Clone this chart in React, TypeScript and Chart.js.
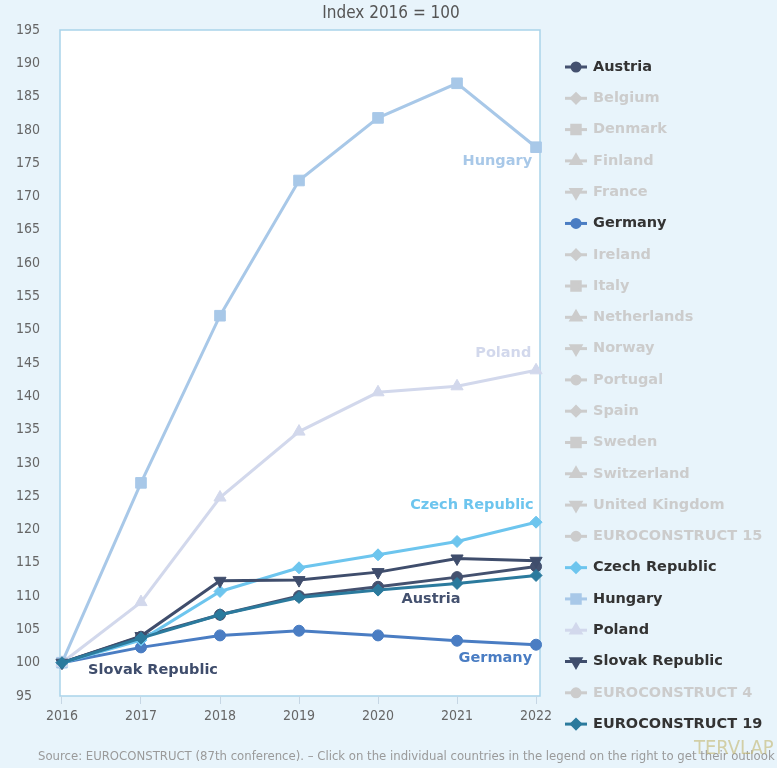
import React, { useEffect, useRef } from "react";
import { Chart, registerables } from "chart.js";
import { drawPoint } from "chart.js/helpers";

Chart.register(...registerables);

// ---------- data ----------
const years = [2016, 2017, 2018, 2019, 2020, 2021, 2022];
const austria = [100, 103.9, 107.2, 110.0, 111.4, 112.85, 114.45];
const germany = [100, 102.3, 104.1, 104.8, 104.1, 103.3, 102.7];
const czechRepublic = [100, 103.4, 110.7, 114.25, 116.2, 118.2, 121.1];
const hungary = [100, 127.0, 152.1, 172.4, 181.8, 187.0, 177.4];
const poland = [100, 109.1, 124.8, 134.7, 140.6, 141.5, 143.9];
const slovakRepublic = [100, 104.0, 112.3, 112.4, 113.6, 115.65, 115.3];
const euroconstruct19 = [100, 103.7, 107.2, 109.8, 110.9, 111.9, 113.1];
const noData: number[] = [];

const yMin = 95;
const yMax = 195;
const yStep = 5;

const titleText = "Index 2016 = 100";
const sourceText =
  "Source: EUROCONSTRUCT (87th conference). – Click on the individual countries in the legend on the right to get their outlook";

type Series = {
  name: string;
  values: number[];
  color: string;
  style: string;
  rotation: number;
  hidden: boolean;
};

const series: Series[] = [
  { name: "Austria", values: austria, color: "#44516f", style: "circle", rotation: 0, hidden: false },
  { name: "Belgium", values: noData, color: "#cccccc", style: "rectRot", rotation: 0, hidden: true },
  { name: "Denmark", values: noData, color: "#cccccc", style: "rect", rotation: 0, hidden: true },
  { name: "Finland", values: noData, color: "#cccccc", style: "triangle", rotation: 0, hidden: true },
  { name: "France", values: noData, color: "#cccccc", style: "triangle", rotation: 180, hidden: true },
  { name: "Germany", values: germany, color: "#4a7dc3", style: "circle", rotation: 0, hidden: false },
  { name: "Ireland", values: noData, color: "#cccccc", style: "rectRot", rotation: 0, hidden: true },
  { name: "Italy", values: noData, color: "#cccccc", style: "rect", rotation: 0, hidden: true },
  { name: "Netherlands", values: noData, color: "#cccccc", style: "triangle", rotation: 0, hidden: true },
  { name: "Norway", values: noData, color: "#cccccc", style: "triangle", rotation: 180, hidden: true },
  { name: "Portugal", values: noData, color: "#cccccc", style: "circle", rotation: 0, hidden: true },
  { name: "Spain", values: noData, color: "#cccccc", style: "rectRot", rotation: 0, hidden: true },
  { name: "Sweden", values: noData, color: "#cccccc", style: "rect", rotation: 0, hidden: true },
  { name: "Switzerland", values: noData, color: "#cccccc", style: "triangle", rotation: 0, hidden: true },
  { name: "United Kingdom", values: noData, color: "#cccccc", style: "triangle", rotation: 180, hidden: true },
  { name: "EUROCONSTRUCT 15", values: noData, color: "#cccccc", style: "circle", rotation: 0, hidden: true },
  { name: "Czech Republic", values: czechRepublic, color: "#6dc5ee", style: "rectRot", rotation: 0, hidden: false },
  { name: "Hungary", values: hungary, color: "#a8c8e8", style: "rect", rotation: 0, hidden: false },
  { name: "Poland", values: poland, color: "#d2d8ec", style: "triangle", rotation: 0, hidden: false },
  { name: "Slovak Republic", values: slovakRepublic, color: "#3f4d6c", style: "triangle", rotation: 180, hidden: false },
  { name: "EUROCONSTRUCT 4", values: noData, color: "#cccccc", style: "circle", rotation: 0, hidden: true },
  { name: "EUROCONSTRUCT 19", values: euroconstruct19, color: "#2b7a9d", style: "rectRot", rotation: 0, hidden: false },
];

// series name labels placed on the chart (data coordinates)
const seriesLabels = [
  { text: "Hungary", x: 2021.95, y: 175.3, align: "right", color: "#a8c8e8" },
  { text: "Poland", x: 2021.94, y: 146.4, align: "right", color: "#d2d8ec" },
  { text: "Czech Republic", x: 2021.97, y: 123.7, align: "right", color: "#6dc5ee" },
  { text: "Austria", x: 2020.67, y: 109.6, align: "center", color: "#44516f" },
  { text: "Germany", x: 2021.95, y: 100.6, align: "right", color: "#4a7dc3" },
  { text: "Slovak Republic", x: 2016.33, y: 98.8, align: "left", color: "#3f4d6c" },
];

// ---------- styles ----------
const BG = "#e8f4fb";
const PLOT_BORDER = "#a9d3ea";
const COND = "'DejaVu Sans Condensed', 'DejaVu Sans', sans-serif";
const BOLD = "bold 14.5px 'DejaVu Sans', sans-serif";

function radiusFor(style: string) {
  if (style === "rect") return 7.5;
  if (style === "triangle") return 7;
  if (style === "rectRot") return 6;
  return 5.5;
}

const decorPlugin = {
  id: "decor",
  beforeDraw(chart: any) {
    const { ctx, chartArea: a, width, height } = chart;
    ctx.save();
    ctx.fillStyle = BG;
    ctx.fillRect(0, 0, width, height);
    ctx.fillStyle = "#ffffff";
    ctx.fillRect(a.left, a.top, a.right - a.left, a.bottom - a.top);
    ctx.strokeStyle = PLOT_BORDER;
    ctx.lineWidth = 1.5;
    ctx.strokeRect(a.left, a.top, a.right - a.left, a.bottom - a.top);
    // title
    ctx.font = `17px ${COND}`;
    ctx.fillStyle = "#555555";
    ctx.textAlign = "center";
    ctx.textBaseline = "middle";
    ctx.fillText(titleText, 391, 14);
    ctx.restore();
  },
  afterDatasetsDraw(chart: any) {
    const { ctx } = chart;
    const xs = chart.scales.x;
    const ys = chart.scales.y;
    ctx.save();
    ctx.font = BOLD;
    ctx.textBaseline = "middle";
    for (const l of seriesLabels) {
      ctx.fillStyle = l.color;
      ctx.textAlign = l.align as CanvasTextAlign;
      ctx.fillText(l.text, xs.getPixelForValue(l.x), ys.getPixelForValue(l.y));
    }
    ctx.restore();
  },
  afterDraw(chart: any) {
    const { ctx, chartArea: a } = chart;
    ctx.save();
    // legend
    const lx = a.right + 25;
    const ly0 = a.top + 37;
    const pitch = 31.29;
    series.forEach((s, i) => {
      const y = ly0 + i * pitch;
      const col = s.hidden ? "#cccccc" : s.color;
      ctx.strokeStyle = col;
      ctx.lineWidth = 3;
      ctx.beginPath();
      ctx.moveTo(lx, y);
      ctx.lineTo(lx + 22, y);
      ctx.stroke();
      ctx.fillStyle = col;
      drawPoint(
        ctx,
        {
          pointStyle: s.style as any,
          radius: radiusFor(s.style) - 1.5,
          rotation: s.rotation,
          borderWidth: 1,
        } as any,
        lx + 11,
        y
      );
      ctx.font = BOLD;
      ctx.textAlign = "left";
      ctx.textBaseline = "middle";
      ctx.fillStyle = s.hidden ? "#cccccc" : "#333333";
      ctx.fillText(s.name, lx + 28, y);
    });
    // source
    ctx.font = `13px ${COND}`;
    ctx.fillStyle = "#9a9a9a";
    ctx.textAlign = "left";
    ctx.textBaseline = "middle";
    ctx.fillText(sourceText, 38, 757);
    // logo mark
    ctx.font = `20px ${COND}`;
    ctx.fillStyle = "rgba(195,182,110,0.6)";
    ctx.fillText("TERVLAP", 694, 749);
    ctx.restore();
  },
};

export default function App() {
  const ref = useRef<HTMLCanvasElement | null>(null);

  useEffect(() => {
    if (!ref.current) return;
    const datasets = series.map((s, i) => ({
      label: s.name,
      data: s.values.map((v, j) => ({ x: years[j], y: v })),
      borderColor: s.color,
      backgroundColor: s.color,
      pointBackgroundColor: s.color,
      pointBorderColor: s.color,
      pointBorderWidth: 1,
      pointStyle: s.style,
      pointRotation: s.rotation,
      pointRadius: radiusFor(s.style),
      pointHoverRadius: radiusFor(s.style) + 1,
      borderWidth: 3,
      tension: 0,
      hidden: s.hidden,
      clip: false as any,
      order: -i,
    }));

    const chart = new Chart(ref.current, {
      type: "line",
      data: { datasets },
      plugins: [decorPlugin],
      options: {
        responsive: false,
        animation: false,
        layout: { padding: { top: 30, left: 16, right: 237, bottom: 42 } },
        plugins: {
          legend: { display: false },
          tooltip: { enabled: true },
          title: { display: false },
        },
        scales: {
          x: {
            type: "linear",
            min: 2015.975,
            max: 2022.05,
            afterBuildTicks: (scale: any) => {
              scale.ticks = years.map((v) => ({ value: v }));
            },
            afterFit: (scale: any) => {
              scale.height = 30;
            },
            ticks: {
              color: "#666666",
              font: { family: COND, size: 14 },
              padding: 4,
              maxRotation: 0,
              autoSkip: false,
              callback: (v: any) => String(v),
            },
            grid: {
              display: true,
              drawOnChartArea: false,
              drawTicks: true,
              tickLength: 8,
              tickColor: "#c6d6e4",
              color: "#c6d6e4",
            },
            border: { display: false },
          },
          y: {
            type: "linear",
            min: yMin,
            max: yMax,
            afterFit: (scale: any) => {
              scale.width = 44;
            },
            ticks: {
              stepSize: yStep,
              color: "#666666",
              font: { family: COND, size: 14 },
              crossAlign: "far",
              autoSkip: false,
            },
            grid: { display: false, drawTicks: false },
            border: { display: false },
          },
        },
      } as any,
    });
    return () => chart.destroy();
  }, []);

  return (
    <div
      style={{
        position: "fixed",
        left: 0,
        top: 0,
        width: 777,
        height: 768,
        background: BG,
      }}
    >
      <canvas ref={ref} width={777} height={768} style={{ display: "block" }} />
    </div>
  );
}
